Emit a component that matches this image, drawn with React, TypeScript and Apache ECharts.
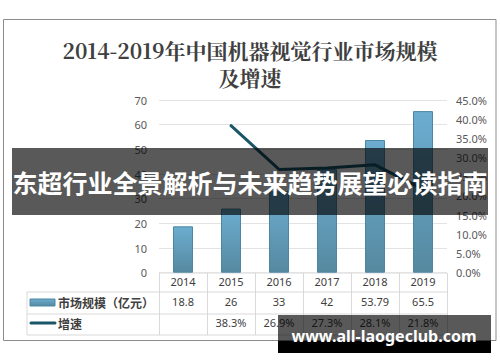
import React, { useEffect, useRef } from "react";
import * as echarts from "echarts";

const years = ["2014", "2015", "2016", "2017", "2018", "2019"];
const marketSize = [18.8, 26, 33, 42, 53.79, 65.5];
const growth: (number | null)[] = [null, 38.3, 26.9, 27.3, 28.1, 21.8];
const titleText = "2014-2019年中国机器视觉行业市场规模\n及增速";
const seriesNames = ["市场规模（亿元）", "增速"];
const bannerText = "东超行业全景解析与未来趋势展望必读指南";
const watermarkText = "www.all-laogeclub.com";

const W = 500;
const H = 362;
const gridLeft = 159;
const gridRight = 447;
const gridTop = 100;
const gridBottom = 272.7;

export default function App() {
  const ref = useRef<HTMLDivElement>(null);
  useEffect(() => {
    if (!ref.current) return;
    const chart = echarts.init(ref.current, undefined, { renderer: "svg" });
    const barGrad = new echarts.graphic.LinearGradient(0, 0, 0, 1, [
      { offset: 0, color: "#6cadd0" },
      { offset: 1, color: "#5689a0" },
    ]);
    const lineColor = "#1a5568";
    const tableColor = "#d9d9d9";
    const labelFont = "'Noto Sans', 'Noto Sans CJK SC', sans-serif";
    const catW = (gridRight - gridLeft) / years.length;
    const rowY = [273, 292, 314, 335];

    const tableLines: any[] = [];
    tableLines.push({
      type: "line",
      shape: { x1: gridLeft, y1: rowY[0], x2: gridRight, y2: rowY[0] },
      style: { stroke: tableColor, lineWidth: 1 },
    });
    for (let r = 1; r < rowY.length; r++) {
      tableLines.push({
        type: "line",
        shape: { x1: 27, y1: rowY[r], x2: gridRight, y2: rowY[r] },
        style: { stroke: tableColor, lineWidth: 1 },
      });
    }
    tableLines.push({
      type: "line",
      shape: { x1: 27, y1: rowY[1], x2: 27, y2: rowY[3] },
      style: { stroke: tableColor, lineWidth: 1 },
    });
    for (let i = 0; i <= years.length; i++) {
      const x = Math.round(gridLeft + i * catW) + 0.5;
      tableLines.push({
        type: "line",
        shape: { x1: x, y1: rowY[0], x2: x, y2: rowY[3] },
        style: { stroke: tableColor, lineWidth: 1 },
      });
    }

    chart.setOption({
      animation: false,
      backgroundColor: "#ffffff",
      title: {
        text: titleText,
        left: "center",
        top: 31,
        textStyle: {
          fontFamily: "'Noto Serif CJK SC', 'Liberation Serif', 'Noto Sans CJK SC', serif",
          fontSize: 21,
          fontWeight: "bold",
          color: "#404040",
          lineHeight: 27,
        },
      },
      grid: {
        left: gridLeft,
        right: W - gridRight,
        top: gridTop,
        bottom: H - gridBottom,
        containLabel: false,
      },
      xAxis: [
        {
          type: "category",
          data: years,
          axisLine: { show: false },
          axisTick: { show: false },
          axisLabel: { color: "#404040", fontSize: 11, fontFamily: labelFont, margin: 3 },
        },
        {
          type: "category",
          data: marketSize.map((v) => String(v)),
          position: "bottom",
          offset: 20,
          axisLine: { show: false },
          axisTick: { show: false },
          axisLabel: { color: "#404040", fontSize: 11, fontFamily: labelFont, margin: 3 },
        },
        {
          type: "category",
          data: growth.map((v) => (v == null ? "" : v.toFixed(1) + "%")),
          position: "bottom",
          offset: 41,
          axisLine: { show: false },
          axisTick: { show: false },
          axisLabel: { color: "#404040", fontSize: 11, fontFamily: labelFont, margin: 3 },
        },
      ],
      yAxis: [
        {
          type: "value",
          min: 0,
          max: 70,
          interval: 10,
          axisLine: { show: false },
          axisTick: { show: false },
          splitLine: { lineStyle: { color: "#e3e3e3", width: 1 } },
          axisLabel: { color: "#595959", fontSize: 11, fontFamily: labelFont, margin: 12 },
        },
        {
          type: "value",
          min: 0,
          max: 45,
          interval: 5,
          axisLine: { show: false },
          axisTick: { show: false },
          splitLine: { show: false },
          axisLabel: {
            color: "#595959",
            fontSize: 11,
            fontFamily: labelFont,
            margin: 9,
            formatter: (v: number) => v.toFixed(1) + "%",
          },
        },
      ],
      series: [
        {
          name: seriesNames[0],
          type: "bar",
          data: marketSize,
          barWidth: 20,
          itemStyle: { color: barGrad, borderColor: "#4d87a2", borderWidth: 1 },
        },
        {
          name: seriesNames[1],
          type: "line",
          yAxisIndex: 1,
          data: growth,
          symbol: "none",
          lineStyle: { color: lineColor, width: 3, cap: "round" },
          itemStyle: { color: lineColor },
        },
      ],
      graphic: [
        {
          type: "rect",
          shape: { x: 3.5, y: 19.5, width: 492.5, height: 321 },
          style: { fill: "none", stroke: "#8c8c8c", lineWidth: 1 },
          z: 0,
        },
        ...tableLines,
        {
          type: "rect",
          shape: { x: 30, y: 299, width: 25, height: 7 },
          style: { fill: barGrad, stroke: "#4d87a2", lineWidth: 1 },
        },
        {
          type: "text",
          x: 58,
          y: 302,
          style: {
            text: seriesNames[0],
            fill: "#404040",
            font: "bold 12px 'Noto Sans CJK SC', sans-serif",
            textVerticalAlign: "middle",
          },
        },
        {
          type: "line",
          shape: { x1: 31, y1: 323, x2: 55, y2: 323 },
          style: { stroke: lineColor, lineWidth: 3, lineCap: "round" },
        },
        {
          type: "text",
          x: 58,
          y: 323,
          style: {
            text: seriesNames[1],
            fill: "#404040",
            font: "bold 12px 'Noto Sans CJK SC', sans-serif",
            textVerticalAlign: "middle",
          },
        },
        {
          type: "rect",
          shape: { x: 12, y: 148, width: 476, height: 67 },
          style: { fill: "rgba(0,0,0,0.65)" },
          z: 100,
        },
        {
          type: "text",
          x: 250,
          y: 182,
          z: 101,
          style: {
            text: bannerText,
            fill: "#ffffff",
            font: "bold 25px 'Noto Sans CJK SC', sans-serif",
            textAlign: "center",
            textVerticalAlign: "middle",
          },
        },
        {
          type: "rect",
          shape: { x: 278, y: 315, width: 213, height: 26 },
          style: { fill: "rgba(0,0,0,0.65)" },
          z: 100,
        },
        {
          type: "rect",
          shape: { x: 278, y: 341, width: 213, height: 12 },
          style: { fill: "#000000" },
          z: 100,
        },
        {
          type: "text",
          x: 384,
          y: 336,
          z: 101,
          style: {
            text: watermarkText,
            fill: "#ffffff",
            font: "bold 16px 'Noto Sans', sans-serif",
            textAlign: "center",
            textVerticalAlign: "middle",
          },
        },
      ],
    });
    return () => chart.dispose();
  }, []);
  return (
    <div
      ref={ref}
      style={{ position: "fixed", left: 0, top: 0, width: W, height: H, background: "#fff" }}
    />
  );
}
